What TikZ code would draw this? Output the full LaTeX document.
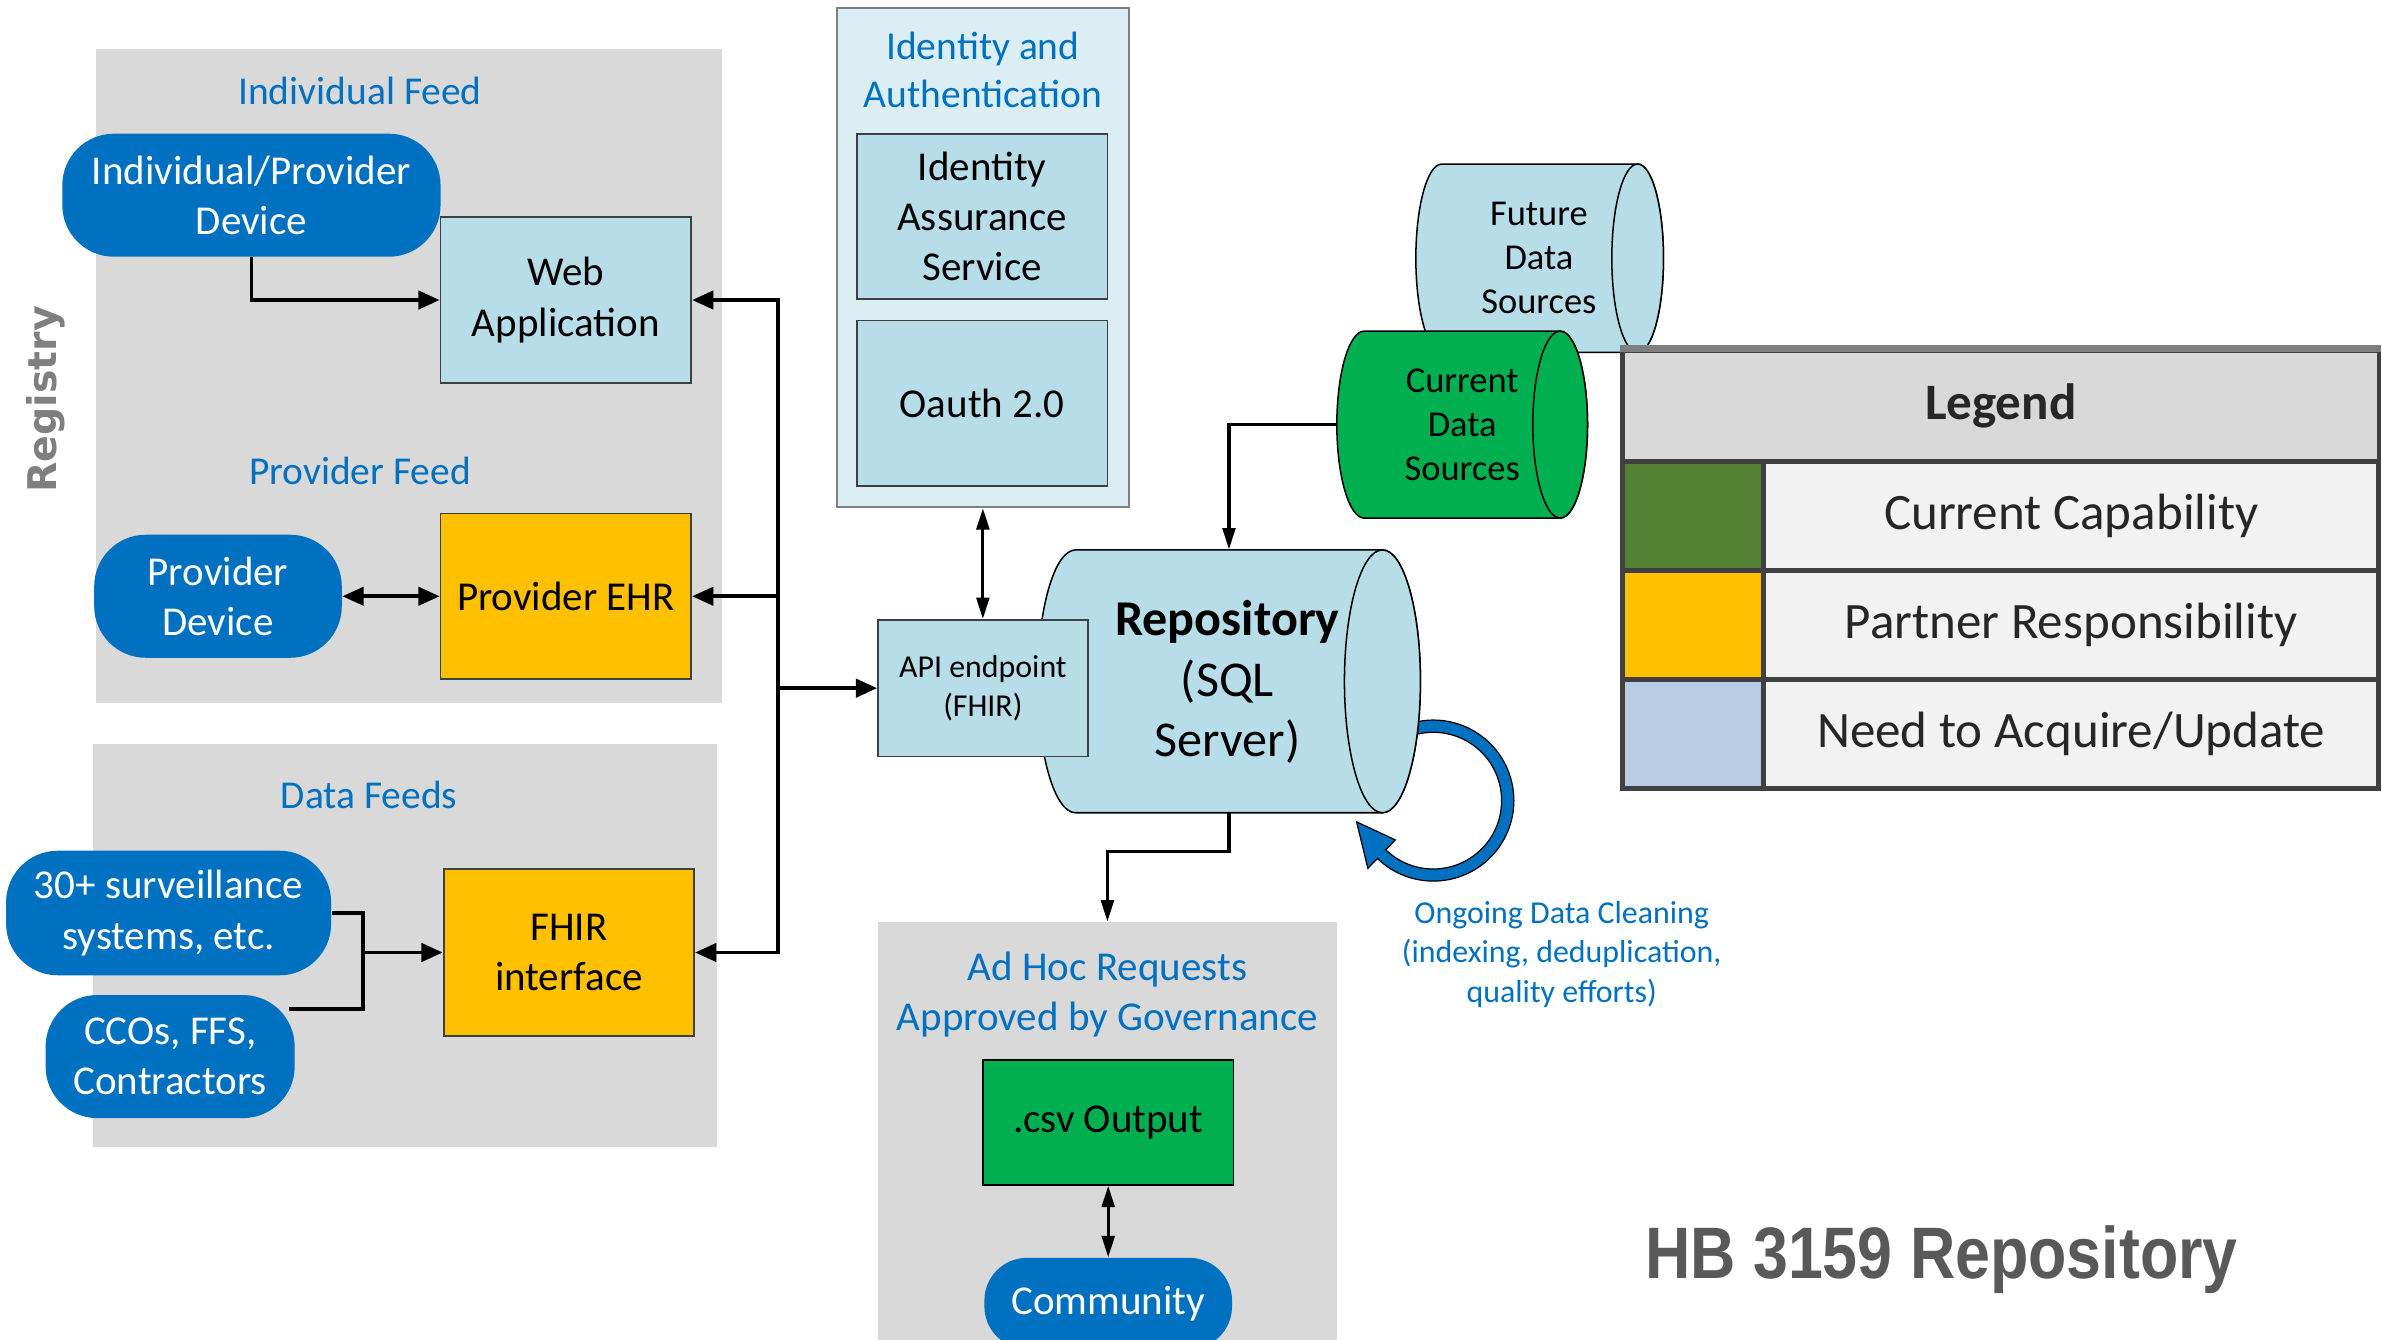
\documentclass[tikz,border=0pt]{standalone}
\usepackage{fontspec}
\setmainfont{Carlito}
\newfontfamily\arialfont{Liberation Sans}
\newfontfamily\verdfont{DejaVu Sans}
\usetikzlibrary{arrows.meta}
\definecolor{panelgray}{HTML}{D9D9D9}
\definecolor{termblue}{HTML}{0070C0}
\definecolor{lightblue}{HTML}{B7DDE8}
\definecolor{idblue}{HTML}{DAEEF3}
\definecolor{partner}{HTML}{FFC000}
\definecolor{greenfill}{HTML}{00B050}
\definecolor{leggreen}{HTML}{548235}
\definecolor{legblue}{HTML}{B8CCE4}
\definecolor{legtext}{HTML}{F2F2F2}
\definecolor{boxline}{HTML}{404040}
\definecolor{titlegray}{HTML}{595959}
\definecolor{reggray}{HTML}{7F7F7F}
\newcommand\fsNode{\fontsize{13.5}{16.5}\selectfont}
\newcommand\fsTitle{\fontsize{13}{16}\selectfont}
\newcommand\fsSmall{\fontsize{10.5}{13}\selectfont}
\newcommand\fsCyl{\fontsize{12}{14.5}\selectfont}
\newcommand\fsRepo{\fontsize{16.5}{20}\selectfont}
\newcommand\fsLeg{\fontsize{16.8}{20}\selectfont}
\newcommand\drawcyl[6]{%
  \pgfmathsetmacro\cylb{(#4-#3)/2}%
  \pgfmathsetmacro\cylm{(#3+#4)/2}%
  \pgfmathsetmacro\cylr{#2-#5}%
  \pgfmathsetmacro\cyll{#1+#5}%
  \filldraw[fill=#6, draw=black, line width=0.5pt] (\cylr,#3) -- (\cyll,#3)
     arc[start angle=-90, end angle=-270, x radius=#5, y radius=\cylb]
     -- (\cylr,#4)
     arc[start angle=90, end angle=-90, x radius=#5, y radius=\cylb] -- cycle;
  \filldraw[fill=#6, draw=black, line width=0.5pt] (\cylr,\cylm) ellipse[x radius=#5, y radius=\cylb];
}
\tikzset{
  panel/.style={fill=panelgray, draw=none, inner sep=0pt},
  term/.style={fill=termblue, text=white, rounded corners=17pt, font=\fsNode, align=center, inner sep=0pt},
  box/.style={draw=boxline, line width=0.6pt, align=center, font=\fsNode, inner sep=0pt},
  lbbox/.style={box, fill=lightblue},
  ptitle/.style={text=termblue, font=\fsTitle, align=center},
  arr/.style={-{Triangle[length=7pt,width=6pt]}, line width=1.2pt},
  darr/.style={{Triangle[length=7pt,width=6pt]}-{Triangle[length=7pt,width=6pt]}, line width=1.2pt},
  narr/.style={-{Triangle[length=7pt,width=4.2pt]}, line width=1pt},
  ndarr/.style={{Triangle[length=7pt,width=4.2pt]}-{Triangle[length=7pt,width=4.2pt]}, line width=1pt},
  legcell/.style={draw=boxline, line width=1.6pt, inner sep=0pt, font=\fsLeg, text=black!85},
}
\begin{document}
\begin{tikzpicture}[x=0.5pt,y=-0.5pt]
\useasboundingbox (0,0) rectangle (1568,882);

% panels
\node[panel, minimum width=206pt, minimum height=215.5pt] (regpanel) at (269,247.5) {};
\node[panel, minimum width=205.5pt, minimum height=132.5pt] (feedpanel) at (266.5,622.5) {};
\node[panel, minimum width=151pt, minimum height=139pt] (adhoc) at (729,746) {};
\node[fill=idblue, draw=reggray, line width=0.6pt, inner sep=0pt, minimum width=96pt, minimum height=164.5pt] (idpanel) at (647,169.5) {};

% panel titles
\node[ptitle] (t1) at (237,60) {Individual Feed};
\node[ptitle] (t2) at (237,310) {Provider Feed};
\node[ptitle] (t3) at (243,523) {Data Feeds};
\node[ptitle] (t4) at (647,46) {Identity and\\Authentication};
\node[ptitle, font=\fsNode] (t5) at (729,654.5) {Ad Hoc Requests\\Approved by Governance};
\node[text=reggray, font=\verdfont\bfseries\fontsize{13}{15}\selectfont, rotate=90] (reglabel) at (30,263) {Registry};

% left nodes
\node[term, minimum width=124.5pt, minimum height=40.5pt] (indiv) at (165.5,128.5) {Individual/Provider\\Device};
\node[lbbox, minimum width=82.5pt, minimum height=54.5pt] (web) at (372.5,197.5) {Web\\Application};
\node[term, minimum width=81.5pt, minimum height=40.5pt] (pdev) at (143.5,392.5) {Provider\\Device};
\node[box, fill=partner, minimum width=82.5pt, minimum height=54.5pt] (ehr) at (372.5,392.5) {Provider EHR};
\node[term, minimum width=107pt, minimum height=41pt] (surv) at (111,601) {30+ surveillance\\systems, etc.};
\node[term, minimum width=82pt, minimum height=40.5pt] (cco) at (112,695.5) {CCOs, FFS,\\Contractors};
\node[box, fill=partner, minimum width=82.5pt, minimum height=55pt] (fhir) at (374.5,627) {FHIR\\interface};

% identity
\node[lbbox, minimum width=82.5pt, minimum height=54.5pt] (ias) at (646.5,142.5) {Identity\\Assurance\\Service};
\node[lbbox, minimum width=82.5pt, minimum height=54.5pt] (oauth) at (646.5,265.5) {Oauth 2.0};

% loop arrow (drawn under repository)
\filldraw[fill=termblue, draw=black, line width=0.4pt]
  (925.4,477.2) arc[start angle=-110, end angle=134, radius=53]
  -- (900.4,571.6) -- (893,541) -- (918.5,552.9)
  -- (912.2,559.4) arc[start angle=134, end angle=-110, radius=45] -- cycle;

% cylinders
\drawcyl{932}{1095}{108}{232}{17}{lightblue}
\node[font=\fsCyl, align=center, minimum width=81.5pt, minimum height=62pt, inner sep=0pt] (future) at (1013,170) {Future\\Data\\Sources};
\drawcyl{880}{1045}{218}{341}{18}{greenfill}
\node[font=\fsCyl, align=center, inner sep=0pt, minimum width=82.5pt, minimum height=61.5pt] (cur) at (962.5,279.5) {Current\\Data\\Sources};
\drawcyl{683}{935}{362}{535}{25}{lightblue}
\node[inner sep=0pt, minimum width=126pt, minimum height=86.5pt] (repo) at (809,448.5) {};
\node[font=\fsRepo, align=center] (repotext) at (808,449) {\textbf{Repository}\\(SQL\\Server)};

% API endpoint
\node[lbbox, font=\fsSmall, minimum width=69pt, minimum height=45pt] (api) at (647,453) {API endpoint\\(FHIR)};

% ad hoc
\node[box, fill=greenfill, draw=black, minimum width=82.5pt, minimum height=41pt] (csv) at (729.5,739) {.csv Output};
\node[term, minimum width=81.5pt, minimum height=30pt, rounded corners=14pt] (comm) at (729.5,858) {Community};

% ongoing text
\node[text=termblue, font=\fsSmall, align=center] (ongoing) at (1028,628) {Ongoing Data Cleaning\\(indexing, deduplication,\\quality efforts)};

% connectors
\draw[arr] (indiv.south) |- (web.west);
\draw[darr] (pdev.east) -- (ehr.west);
\coordinate (join) at (239,627);
\coordinate (ccoexit) at (190,664);
\draw[line width=1.2pt] (surv.east) -| (join);
\draw[line width=1.2pt] (ccoexit) -| (join);
\draw[arr] (join) -- (fhir.west);
\coordinate (bus) at (512,453);
\draw[arr] (bus) |- (web.east);
\draw[arr] (bus) |- (ehr.east);
\draw[arr] (bus) |- (fhir.east);
\draw[arr] (bus) -- (api.west);
\draw[ndarr] (idpanel.south) -- (api.north);
\draw[narr] (cur.west) -| (repo.north);
\draw[narr] (repo.south) -- ++(0,25) -| (adhoc.north);
\draw[ndarr] (csv.south) -- (comm.north);

% legend
\node[legcell, fill=panelgray, minimum width=249pt, minimum height=36.5pt] (leghead) at (1317,267.5) {\textbf{Legend}};
\node[legcell, fill=leggreen, minimum width=46.35pt, minimum height=35.85pt] (sw1) at (1114.3,339.85) {};
\node[legcell, fill=legtext, minimum width=202.5pt, minimum height=35.85pt] (lt1) at (1363.4,339.85) {\raisebox{-1.5pt}{Current Capability}};
\node[legcell, fill=partner, minimum width=46.35pt, minimum height=35.85pt] (sw2) at (1114.3,411.6) {};
\node[legcell, fill=legtext, minimum width=202.5pt, minimum height=35.85pt] (lt2) at (1363.4,411.6) {\raisebox{-1.5pt}{Partner Responsibility}};
\node[legcell, fill=legblue, minimum width=46.35pt, minimum height=35.85pt] (sw3) at (1114.3,483.3) {};
\node[legcell, fill=legtext, minimum width=202.5pt, minimum height=35.85pt] (lt3) at (1363.4,483.3) {\raisebox{-1.5pt}{Need to Acquire/Update}};
\draw[reggray, line width=2.2pt] (leghead.north west) -- (leghead.north east);

% title
\node[text=titlegray, font=\arialfont\bfseries\fontsize{24}{28}\selectfont] (maintitle) at (1278,829) {\scalebox{0.86}[1]{HB 3159 Repository}};
\end{tikzpicture}
\end{document}
